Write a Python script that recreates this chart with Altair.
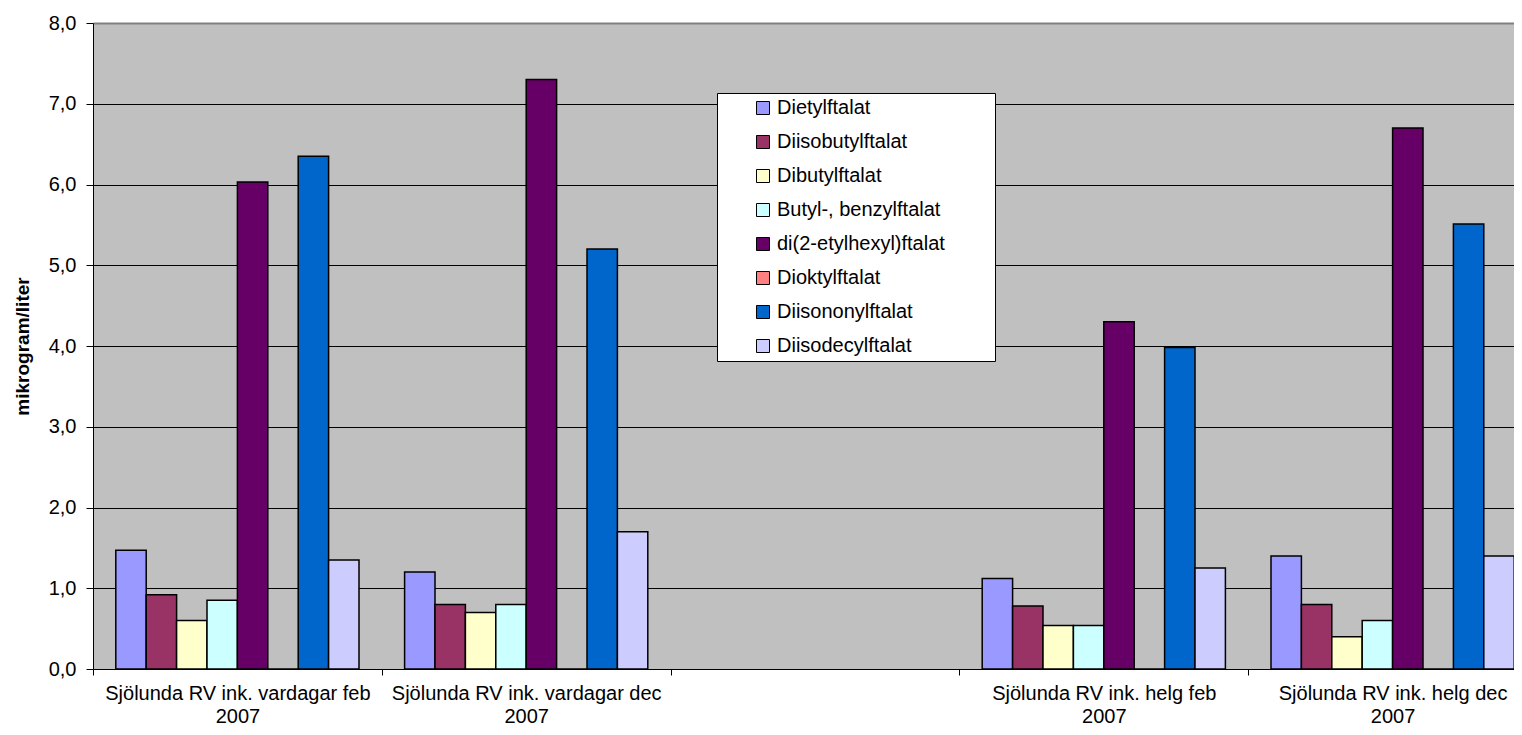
import altair as alt
import pandas as pd

categories = [
    "Sjölunda RV ink. vardagar feb|2007",
    "Sjölunda RV ink. vardagar dec|2007",
    " ",
    "Sjölunda RV ink. helg feb|2007",
    "Sjölunda RV ink. helg dec|2007",
]
series = [
    "Dietylftalat",
    "Diisobutylftalat",
    "Dibutylftalat",
    "Butyl-, benzylftalat",
    "di(2-etylhexyl)ftalat",
    "Dioktylftalat",
    "Diisononylftalat",
    "Diisodecylftalat",
]
colors = ["#9999FF", "#993366", "#FFFFCC", "#CCFFFF", "#660066", "#FF8080", "#0066CC", "#CCCCFF"]

vardagar_feb = [1.47, 0.92, 0.60, 0.85, 6.03, 0.0, 6.35, 1.35]
vardagar_dec = [1.20, 0.80, 0.70, 0.80, 7.30, 0.0, 5.20, 1.70]
blank = [None] * 8
helg_feb = [1.12, 0.78, 0.54, 0.54, 4.30, 0.0, 3.98, 1.25]
helg_dec = [1.40, 0.80, 0.40, 0.60, 6.70, 0.0, 5.51, 1.40]

rows = []
for cat, vals in zip(categories, [vardagar_feb, vardagar_dec, blank, helg_feb, helg_dec]):
    for s, v in zip(series, vals):
        rows.append({"cat": cat, "series": s, "value": v})
df = pd.DataFrame(rows)

FONT = "Liberation Sans"
# invisible trailing room in the legend box (zero-width space stops trimming)
PAD = "\u00a0" * 8 + "\u200b"

chart = (
    alt.Chart(df)
    .mark_bar(stroke="black", strokeWidth=1.5)
    .encode(
        x=alt.X(
            "cat:N",
            sort=categories,
            scale=alt.Scale(domain=categories, range=[0, 1444], paddingInner=0, paddingOuter=0),
            axis=alt.Axis(
                title=None,
                labelExpr="split(datum.label, '|')",
                tickBand="extent",
                domain=False,
                grid=False,
                ticks=True,
                tickColor="black",
                tickSize=6,
                labelAngle=0,
                labelFont=FONT,
                labelFontSize=20,
                labelColor="black",
                labelLineHeight=23,
                labelPadding=8,
                labelLimit=500,
            ),
        ),
        xOffset=alt.XOffset(
            "series:N",
            sort=series,
            scale=alt.Scale(domain=series, paddingInner=0, paddingOuter=0.75),
        ),
        y=alt.Y(
            "value:Q",
            scale=alt.Scale(domain=[0, 8], nice=False),
            axis=alt.Axis(
                title="mikrogram/liter",
                titleFont=FONT,
                titleFontSize=19,
                titleFontWeight="bold",
                titleColor="black",
                titleX=-71,
                titleY=323,
                titleAngle=270,
                titleAlign="center",
                titleBaseline="middle",
                values=[0, 1, 2, 3, 4, 5, 6, 7, 8],
                labelExpr="replace(format(datum.value, '.1f'), '.', ',')",
                labelFont=FONT,
                labelFontSize=20,
                labelColor="black",
                labelPadding=10,
                tickSize=7,
                tickColor="black",
                domainColor="black",
                grid=True,
                gridColor=alt.condition("datum.value == 8", alt.value("#808080"), alt.value("black")),
                gridWidth=alt.condition("datum.value == 8", alt.value(2), alt.value(1)),
                gridOpacity=1,
            ),
        ),
        color=alt.Color(
            "series:N",
            sort=series,
            scale=alt.Scale(domain=series, range=colors),
            legend=alt.Legend(
                title=None,
                orient="none",
                legendX=624,
                legendY=70,
                fillColor="white",
                strokeColor="black",
                padding=5,
                symbolType="square",
                symbolSize=169,
                symbolStrokeColor="black",
                symbolStrokeWidth=1,
                symbolOffset=31,
                labelOffset=4,
                labelFont=FONT,
                labelFontSize=20,
                labelColor="black",
                labelExpr="datum.label + '" + PAD + "'",
                labelLimit=400,
                rowPadding=14,
            ),
        ),
    )
    .properties(
        width=1421,
        height=646,
        autosize=alt.AutoSizeParams(type="none"),
        padding={"left": 85, "top": 15, "right": 0, "bottom": 58},
        background="white",
    )
    .configure_view(fill="#C0C0C0", strokeWidth=0)
)

chart.save("out.html", embed_options={"renderer": "svg", "actions": False})
